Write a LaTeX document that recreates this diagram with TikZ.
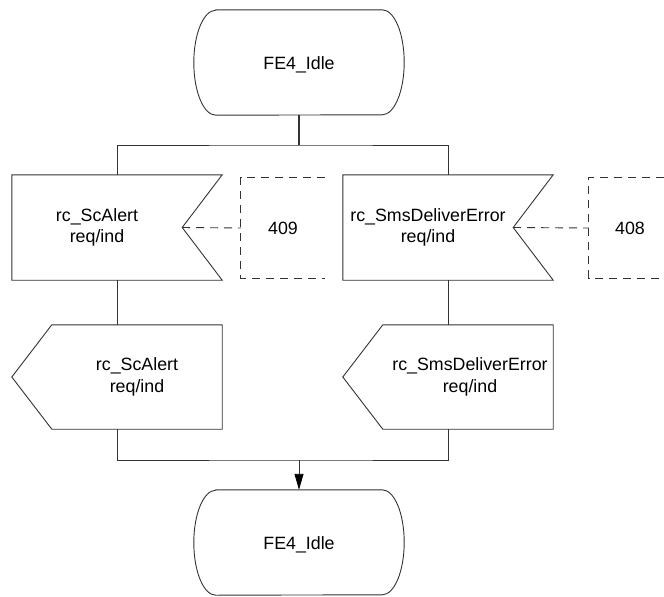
\documentclass[tikz,border=0pt]{standalone}
\usepackage{fontspec}
\setmainfont{Liberation Sans}
\usetikzlibrary{arrows.meta}
\begin{document}
\begin{tikzpicture}[x=1pt,y=1pt,
  ln/.style={draw=black!80, line width=0.9pt},
  shapebox/.style={minimum width=210pt, minimum height=105pt, inner sep=0pt, draw=none},
  txt/.style={font=\fontsize{17.8}{21.5}\selectfont, align=center, inner sep=0pt},
  dsh/.style={ln, dash pattern=on 8pt off 6pt},
  cmt/.style={minimum width=84pt, minimum height=100pt, inner sep=0pt, draw=none, font=\fontsize{17.8}{21.5}\selectfont},
  ]
\useasboundingbox (0,0) rectangle (664,-597);

% states
\node[shapebox] (s1) at (299,-62.5) {};
\draw[ln] ([xshift=22pt]s1.north west) -- ([xshift=-22pt]s1.north east)
  arc[start angle=90,end angle=-90,x radius=22pt,y radius=52.5pt]
  -- ([xshift=22pt]s1.south west)
  arc[start angle=270,end angle=90,x radius=22pt,y radius=52.5pt] -- cycle;
\node[txt] (s1t) at ([yshift=-2pt]s1.center) {FE4\_Idle};

\node[shapebox] (s2) at (299,-542.5) {};
\draw[ln] ([xshift=22pt]s2.north west) -- ([xshift=-22pt]s2.north east)
  arc[start angle=90,end angle=-90,x radius=22pt,y radius=52.5pt]
  -- ([xshift=22pt]s2.south west)
  arc[start angle=270,end angle=90,x radius=22pt,y radius=52.5pt] -- cycle;
\node[txt] (s2t) at ([yshift=-2pt]s2.center) {FE4\_Idle};

% input signals
\node[shapebox] (in1) at (117,-227.5) {};
\draw[ln] (in1.north west) -- (in1.north east) -- ([xshift=-40pt]in1.east)
  -- (in1.south east) -- (in1.south west) -- cycle;
\node[txt] (in1t) at ([xshift=-20pt]in1.center) {rc\_ScAlert\\req/ind};

\node[shapebox] (in2) at (448,-227.5) {};
\draw[ln] (in2.north west) -- (in2.north east) -- ([xshift=-40pt]in2.east)
  -- (in2.south east) -- (in2.south west) -- cycle;
\node[txt] (in2t) at ([xshift=-20pt]in2.center) {rc\_SmsDeliverError\\req/ind};

% comments
\node[cmt] (c1) at (283,-228) {409};
\draw[dsh] (c1.north east) -- (c1.north west) -- (c1.south west) -- (c1.south east);
\draw[dsh] ([xshift=-40pt]in1.east) -- (c1.west);

\node[cmt, minimum width=75pt] (c2) at (626.5,-228) {};
\node[txt] (c2t) at (630,-228) {408};
\draw[dsh] (c2.north east) -- (c2.north west) -- (c2.south west) -- (c2.south east);
\draw[dsh] ([xshift=-40pt]in2.east) -- (c2.west);

% output signals
\node[shapebox, minimum height=104pt] (o1) at (117,-377) {};
\draw[ln] ([xshift=40pt]o1.north west) -- (o1.north east) -- (o1.south east)
  -- ([xshift=40pt]o1.south west) -- (o1.west) -- cycle;
\node[txt] (o1t) at ([xshift=20pt]o1.center) {rc\_ScAlert\\req/ind};

\node[shapebox, minimum height=104pt] (o2) at (448,-377) {};
\draw[ln] ([xshift=40pt]o2.north west) -- (o2.north east) -- (o2.south east)
  -- ([xshift=40pt]o2.south west) -- (o2.west) -- cycle;
\node[txt] (o2t) at ([xshift=22pt]o2.center) {rc\_SmsDeliverError\\req/ind};

% connectors
\coordinate (fork) at (299,-145);
\coordinate (join) at (299,-460);
\draw[ln, line width=1.3pt] (s1.south) -- (fork);
\draw[ln] (in1.north) |- (fork) -| (in2.north);
\draw[ln] (in1.south) -- (o1.north);
\draw[ln] (in2.south) -- (o2.north);
\draw[ln] (o1.south) |- (join) -| (o2.south);
\draw[ln, -{Triangle[length=16pt,width=9pt,color=black,fill=black]}] (join) -- (s2.north);
\end{tikzpicture}
\end{document}
